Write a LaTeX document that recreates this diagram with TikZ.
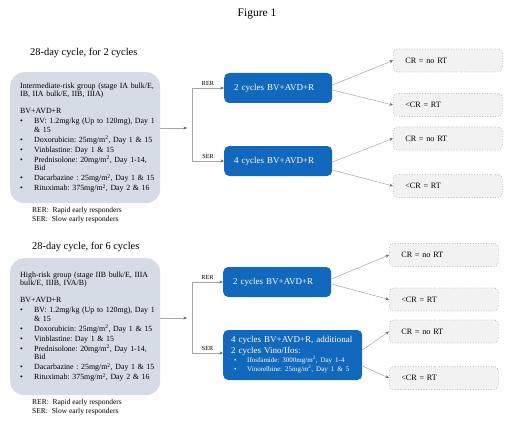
\documentclass[tikz,border=0pt]{standalone}
\usepackage{fontspec}
\setmainfont{Liberation Serif}
\usetikzlibrary{arrows.meta}
\frenchspacing
\definecolor{groupgray}{RGB}{214,220,229}
\definecolor{cycleblue}{RGB}{17,104,189}
\definecolor{outgray}{RGB}{242,242,242}
\definecolor{linegray}{RGB}{166,166,166}
\newcommand{\msq}{mg/m\textsuperscript{2}}
% bullet line in a group box
\newcommand{\drug}[1]
{
	\par\vspace{1.5pt}\noindent\makebox[14pt][l]{\textbullet}#1
}
% second line of a bullet
\newcommand{\cont}[1]
{
	\par\noindent\hspace*{14pt}#1
}
% bullet line in the blue box
\newcommand{\salvage}[1]
{
	\par\noindent\hspace*{3pt}\makebox[13pt][l]{\textbullet}#1
}
% outcome box: name, x in pt, y in pt, text
\newcommand{\outcome}[4]
{
	\node[outbox, anchor=west] (#1) at (#2,#3) {#4};
}

\begin{document}
\begin{tikzpicture}[x=1pt, y=-1pt,
	grpbox/.style={fill=groupgray, rounded corners=14pt, inner xsep=0pt, inner ysep=0pt,
		text width=150pt, align=left, font=\fontsize{7.9}{8.5}\selectfont},
	cycbox/.style={fill=cycleblue, text=white, rounded corners=5pt, inner xsep=10pt,
		minimum height=30pt, align=left, font=\fontsize{9}{11}\selectfont},
	outbox/.style={draw=gray!75, dotted, line width=0.6pt, fill=outgray, rounded corners=4pt, inner xsep=12pt,
		text width=85pt, minimum height=23pt, align=left, font=\fontsize{8.2}{10}\selectfont},
	head/.style={inner sep=0pt, anchor=west, font=\fontsize{10.4}{12}\selectfont},
	key/.style={inner sep=0pt, anchor=west, align=left, font=\fontsize{7.5}{9}\selectfont},
	lab/.style={inner sep=0pt, font=\fontsize{6.2}{7}\selectfont},
	conn/.style={draw=linegray, line width=0.5pt, -{Stealth[length=3.5pt,width=3pt,color=gray!80!black]}}]
	\useasboundingbox (0,0) rectangle (520,428);
	\node[inner sep=0pt, font=\fontsize{11.5}{13}\selectfont] (title) at (257,14) {Figure 1};

	% 2 cycles
	\node[head] (head1) at (30,53) {28-day cycle, for 2 cycles};
	\node[grpbox, anchor=north west, minimum height=131pt] (grp1) at (10,72)
	{\leftskip=10pt Intermediate-risk group (stage IA bulk/E,\\IB, IIA bulk/E, IIB, IIIA)
		\par\vspace{8.5pt}\noindent BV+AVD+R
		\drug{BV: 1.2mg/kg (Up to 120mg), Day 1}
		\cont{\& 15}
		\drug{Doxorubicin: 25\msq, Day 1 \& 15}
		\drug{Vinblastine: Day 1 \& 15}
		\drug{Prednisolone: 20\msq, Day 1-14,}
		\cont{Bid}
		\drug{Dacarbazine : 25\msq, Day 1 \& 15}
		\drug{Rituximab: 375\msq, Day 2 \& 16}\par};
	\node[key] (key1) at (32,215.5) {RER:\ \ Rapid early responders\\SER:\ \ Slow early responders};
	\node[cycbox, anchor=west, text width=88pt] (cyc1a) at (224,88) {2 cycles BV+AVD+R};
	\node[cycbox, anchor=west, text width=88pt] (cyc1b) at (224,161) {4 cycles BV+AVD+R};
	\outcome{out1}{393}{60.5}{CR = no RT}
	\outcome{out2}{393}{105}{<CR = RT}
	\outcome{out3}{393}{138.5}{CR = no RT}
	\outcome{out4}{393}{186}{<CR = RT}

	\coordinate (in1) at (187,128);
	\coordinate (fork1) at (192,128);
	\draw[conn] (grp1.east |- in1) -- (in1);
	\draw[conn] (fork1) |- (cyc1a.west) node[lab, pos=0.75, above=2pt] {RER};
	\draw[conn] (fork1) |- (cyc1b.west) node[lab, pos=0.75, above=2pt] {SER};
	\draw[conn] ([yshift=3pt]cyc1a.east) -- (out1.west);
	\draw[conn] ([yshift=-2pt]cyc1a.east) -- (out2.west);
	\draw[conn] ([yshift=-1pt]cyc1b.east) -- (out3.west);
	\draw[conn] ([yshift=-9pt]cyc1b.east) -- (out4.west);

	% 6 cycles
	\node[head] (head2) at (32,247) {28-day cycle, for 6 cycles};
	\node[grpbox, anchor=north west, minimum height=137pt] (grp2) at (10,258)
	{\leftskip=10pt High-risk group (stage IIB bulk/E, IIIA\\bulk/E, IIIB, IVA/B)
		\par\vspace{8.5pt}\noindent BV+AVD+R
		\drug{BV: 1.2mg/kg (Up to 120mg), Day 1}
		\cont{\& 15}
		\drug{Doxorubicin: 25\msq, Day 1 \& 15}
		\drug{Vinblastine: Day 1 \& 15}
		\drug{Prednisolone: 20\msq, Day 1-14,}
		\cont{Bid}
		\drug{Dacarbazine : 25\msq, Day 1 \& 15}
		\drug{Rituximab: 375\msq, Day 2 \& 16}\par};
	\node[key] (key2) at (32,407.5) {RER:\ \ Rapid early responders\\SER:\ \ Slow early responders};
	\node[cycbox, anchor=west, text width=88pt] (cyc2a) at (223,282) {2 cycles BV+AVD+R};
	\node[cycbox, anchor=west, inner xsep=8pt, text width=123pt, minimum height=50pt] (cyc2b) at (223,355)
	{4 cycles BV+AVD+R, additional\\2 cycles Vino/Ifos:\par
		\fontsize{7}{9}\selectfont
		\salvage{Ifosfamide: 3000\msq, Day 1-4}
		\salvage{Vinorelbine: 25\msq, Day 1 \& 5}\par};
	\outcome{out5}{389}{255}{CR = no RT}
	\outcome{out6}{389}{299.5}{<CR = RT}
	\outcome{out7}{389}{331.5}{CR = no RT}
	\outcome{out8}{389}{378}{<CR = RT}

	\coordinate (in2) at (187,318);
	\coordinate (fork2) at (192,318);
	\draw[conn] (grp2.east |- in2) -- (in2);
	\draw[conn] (fork2) |- (cyc2a.west) node[lab, pos=0.75, above=2pt] {RER};
	\draw[conn] (fork2) |- ([yshift=2pt]cyc2b.west) node[lab, pos=0.75, above=2pt] {SER};
	\draw[conn] ([yshift=3pt]cyc2a.east) -- (out5.west);
	\draw[conn] ([yshift=-2pt]cyc2a.east) -- (out6.west);
	\draw[conn] ([yshift=5pt]cyc2b.east) -- (out7.west);
	\draw[conn] ([yshift=-11pt]cyc2b.east) -- (out8.west);
\end{tikzpicture}
\end{document}
